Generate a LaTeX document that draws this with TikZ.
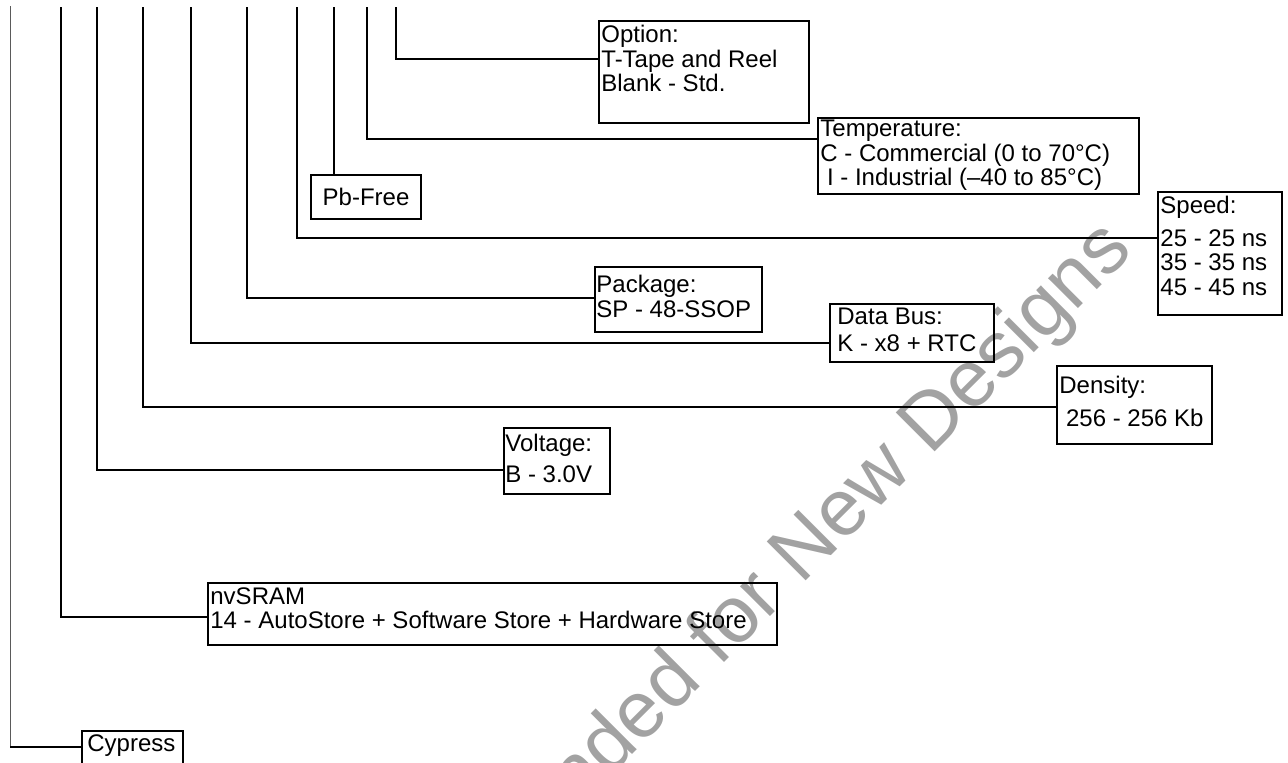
\documentclass[tikz,border=0pt]{standalone}
\usepackage{fontspec}
\setmainfont{Liberation Sans}
\usetikzlibrary{positioning}
\definecolor{stampgray}{RGB}{162,162,162}
\definecolor{railgray}{RGB}{90,90,90}

\begin{document}
\begin{tikzpicture}[
    x=0.5pt, y=-0.5pt,
    field/.style={draw, line width=1pt, anchor=north west, inner sep=0pt},
    fieldtext/.style={anchor=north west, align=left, inner xsep=1.5pt, inner ysep=2.5pt, font=\fontsize{12}{12.25}\selectfont},
    lead/.style={line width=1pt},
    stamp/.style={anchor=base east, rotate=45, inner sep=0pt, text=stampgray, font=\fontsize{40}{40}\selectfont}
]
\useasboundingbox (0,0) rectangle (1288,762);
\clip (0,0) rectangle (1288,762);

% Watermark
\node[stamp] (wm) at (1135,252) {Not Recommended for New Designs};

% Fields
\node[field, minimum width=105pt, minimum height=51pt, label={[fieldtext]north west:{Option:\\T-Tape and Reel\\Blank - Std.}}] (opt) at (598,20) {};
\node[field, minimum width=160.5pt, minimum height=38pt, label={[fieldtext, inner ysep=1.5pt]north west:{Temperature:\\C - Commercial (0 to 70°C)\\\ I - Industrial (–40 to 85°C)}}] (temp) at (817,117) {};
\node[field, minimum width=55pt, minimum height=22pt, font=\fontsize{12}{12.25}\selectfont, anchor=north west] (pb) at (310,174) {Pb-Free};
\node[field, minimum width=62pt, minimum height=61.5pt, label={[fieldtext]north west:{Speed:\\[4pt]25 - 25 ns\\35 - 35 ns\\45 - 45 ns}}] (spd) at (1157,191) {};
\node[field, minimum width=83.5pt, minimum height=32.5pt, label={[fieldtext, inner ysep=4.5pt, inner xsep=1pt]north west:{Package:\\SP - 48-SSOP}}] (pkg) at (594,266) {};
\node[field, minimum width=82pt, minimum height=29pt, label={[fieldtext, inner xsep=4pt]north west:{Data Bus:\\[1pt]K - x8 + RTC}}] (bus) at (829,303) {};
\node[field, minimum width=77.5pt, minimum height=39pt, label={[fieldtext, inner ysep=5.5pt]north west:{Density:\\[4pt]\ 256 - 256 Kb}}] (den) at (1056,365) {};
\node[field, minimum width=53pt, minimum height=33pt, label={[fieldtext, inner ysep=3.5pt, inner xsep=1pt]north west:{Voltage:\\[3pt]B - 3.0V}}] (vol) at (503,427) {};
\node[field, minimum width=284.5pt, minimum height=31pt, label={[fieldtext]north west:{nvSRAM\\14 - AutoStore + Software Store + Hardware Store}}] (nv) at (207,582) {};
\node[field, minimum width=50.5pt, minimum height=20pt, label={[fieldtext, inner xsep=3pt, inner ysep=2pt]north west:{Cypress}}] (cy) at (81,730) {};

% Rail tops
\coordinate (rCy) at (10,6);
\coordinate (rNv) at (61,7);
\coordinate (rVol) at (97,7);
\coordinate (rDen) at (143,7);
\coordinate (rBus) at (191,7);
\coordinate (rPkg) at (247,7);
\coordinate (rSpd) at (297,7);
\coordinate (rPb) at (334,7);
\coordinate (rTemp) at (367,7);
\coordinate (rOpt) at (396,7);

% Leads
\draw[line width=0.5pt, railgray] (rCy) -- (rCy |- 0,747);
\draw[lead] (rCy |- 0,747) -- (cy.west |- 0,747);
\draw[lead] (rNv) |- (nv.west |- 0,617);
\draw[lead] (rVol) |- (vol.west |- 0,470);
\draw[lead] (rDen) |- (den.west |- 0,407);
\draw[lead] (rBus) |- (bus.west |- 0,343);
\draw[lead] (rPkg) |- (pkg.west |- 0,298);
\draw[lead] (rSpd) |- (spd.west |- 0,238);
\draw[lead] (rPb) -- (rPb |- pb.north);
\draw[lead] (rTemp) |- (temp.west |- 0,139);
\draw[lead] (rOpt) |- (opt.west |- 0,59);

\end{tikzpicture}
\end{document}
